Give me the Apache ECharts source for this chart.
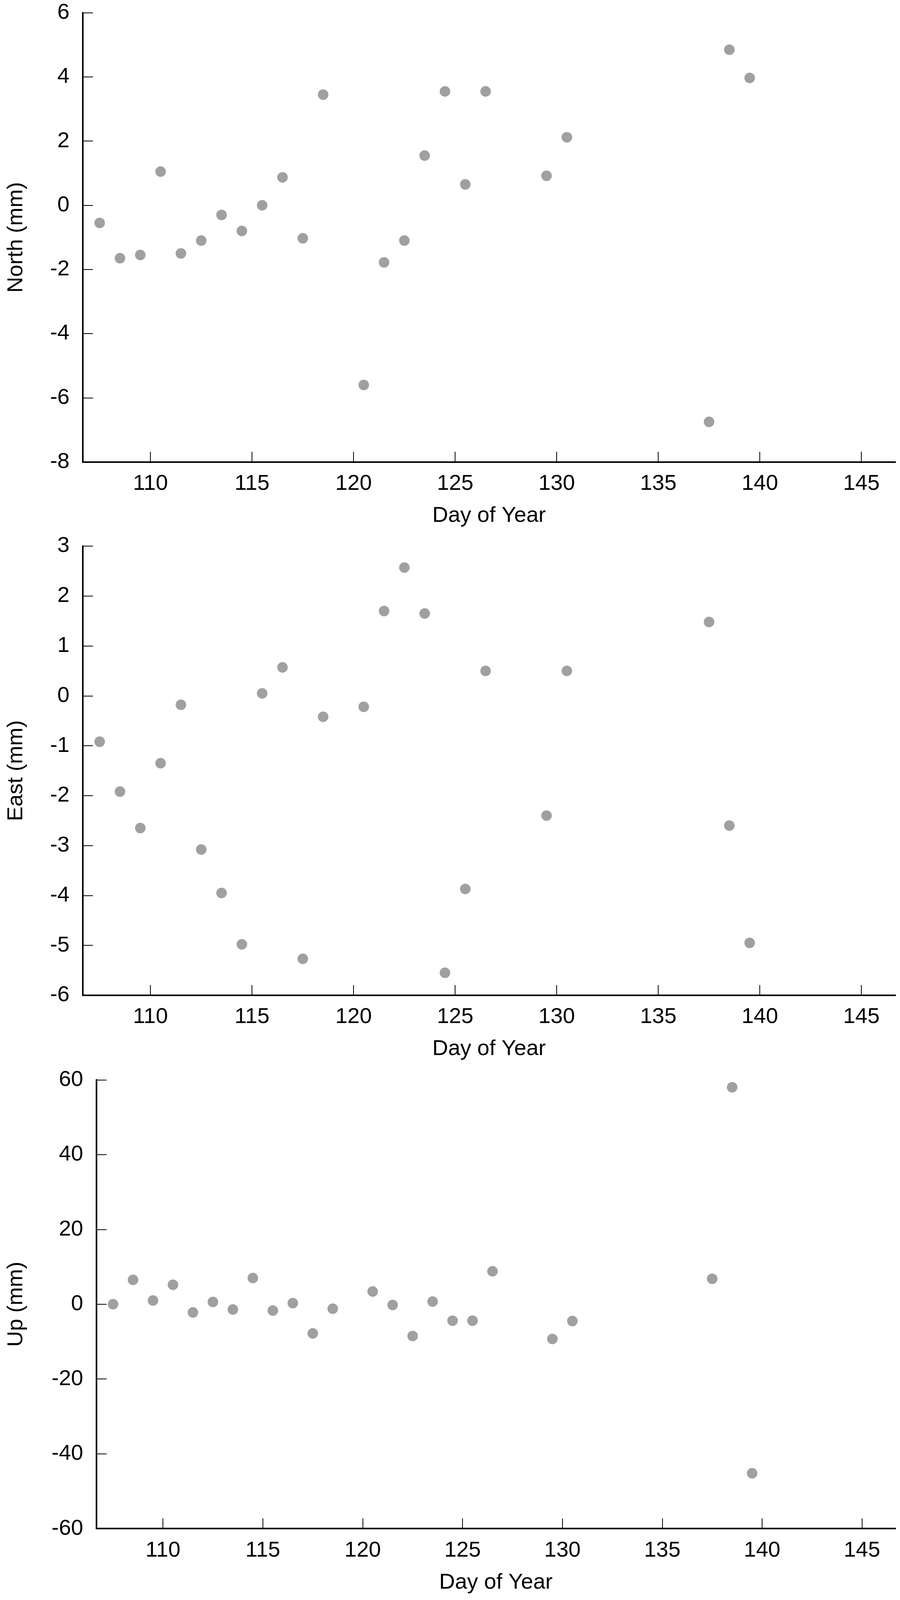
<!DOCTYPE html>
<html>
<head>
<meta charset="utf-8">
<script src="https://cdn.jsdelivr.net/npm/echarts@6/dist/echarts.min.js"></script>
<style>
  html, body { margin: 0; padding: 0; background: #fff; overflow: hidden; }
  #chart { width: 100vw; height: 100vh; }
</style>
</head>
<body>
<div id="chart"></div>
<script>
// Day of year for each sample (same for all three components)
var days = [107.5, 108.5, 109.5, 110.5, 111.5, 112.5, 113.5, 114.5, 115.5, 116.5, 117.5, 118.5,
            120.5, 121.5, 122.5, 123.5, 124.5, 125.5, 126.5, 129.5, 130.5, 137.5, 138.5, 139.5];

var northValues = [-0.55, -1.65, -1.55, 1.05, -1.5, -1.1, -0.3, -0.8, 0.0, 0.87, -1.03, 3.45,
                   -5.6, -1.78, -1.1, 1.55, 3.55, 0.65, 3.55, 0.92, 2.12, -6.75, 4.85, 3.97];

var eastValues = [-0.92, -1.92, -2.65, -1.35, -0.18, -3.08, -3.95, -4.98, 0.05, 0.57, -5.27, -0.42,
                  -0.22, 1.7, 2.57, 1.65, -5.55, -3.87, 0.5, -2.4, 0.5, 1.48, -2.6, -4.95];

var upValues = [0.0, 6.5, 1.0, 5.2, -2.2, 0.6, -1.4, 7.0, -1.7, 0.3, -7.8, -1.2,
                3.4, -0.2, -8.5, 0.7, -4.4, -4.4, 8.8, -9.3, -4.5, 6.8, 58.0, -45.2];

var xTicks = [110, 115, 120, 125, 130, 135, 140, 145];

var FONT = '"Liberation Sans", Arial, sans-serif';

function pairs(vals) {
    return days.map(function(d, i) { return [d, vals[i]]; });
}

// panel boxes, measured in pixels on the 2304x4257 reference
var panels = [
    { name: 'North (mm)', values: northValues, min: -8, max: 6, interval: 2, left: 212, top: 34, bottom: 1229 },
    { name: 'East (mm)', values: eastValues, min: -6, max: 3, interval: 1, left: 212, top: 1453, bottom: 2648 },
    { name: 'Up (mm)', values: upValues, min: -60, max: 60, interval: 20, left: 247, top: 2873, bottom: 4067 }
];

function pw(v) { return (v / 2304 * 100).toFixed(3) + '%'; }
function ph(v) { return (v / 4257 * 100).toFixed(3) + '%'; }

var grids = [], xAxes = [], yAxes = [], series = [];

panels.forEach(function(p, i) {
    grids.push({ left: pw(p.left), right: pw(12), top: ph(p.top), height: ph(p.bottom - p.top), outerBoundsMode: 'none' });
    xAxes.push({
        type: 'value', gridIndex: i, min: 106.67, max: 146.67,
        name: 'Day of Year', nameLocation: 'middle', nameGap: 110, nameMoveOverlap: false,
        nameTextStyle: { fontFamily: FONT, fontSize: 56, color: '#000' },
        axisLine: { show: true, onZero: false, lineStyle: { color: '#000', width: 4 } },
        axisTick: { show: true, inside: true, length: 26, customValues: xTicks, lineStyle: { color: '#000', width: 2 } },
        axisLabel: { fontFamily: FONT, fontSize: 56, color: '#000', margin: 28, customValues: xTicks },
        splitLine: { show: false }
    });
    yAxes.push({
        type: 'value', gridIndex: i, min: p.min, max: p.max, interval: p.interval,
        // the rotated name sits on the far side of nameGap, so leave room for its height
        name: p.name, nameLocation: 'middle', nameGap: p.left - 70, nameRotate: 90, nameMoveOverlap: false,
        nameTextStyle: { fontFamily: FONT, fontSize: 56, color: '#000' },
        axisLine: { show: true, onZero: false, lineStyle: { color: '#000', width: 4 } },
        axisTick: { show: true, inside: true, length: 26, lineStyle: { color: '#000', width: 2 } },
        axisLabel: { fontFamily: FONT, fontSize: 56, color: '#000', margin: 34 },
        splitLine: { show: false }
    });
    series.push({
        type: 'scatter', xAxisIndex: i, yAxisIndex: i,
        data: pairs(p.values),
        symbol: 'circle', symbolSize: 27,
        itemStyle: { color: '#878887' },
        animation: false
    });
});

var chart = echarts.init(document.getElementById('chart'));
chart.setOption({
    backgroundColor: '#fff',
    animation: false,
    grid: grids,
    xAxis: xAxes,
    yAxis: yAxes,
    series: series
});
window.addEventListener('resize', function() { chart.resize(); });
</script>
</body>
</html>
